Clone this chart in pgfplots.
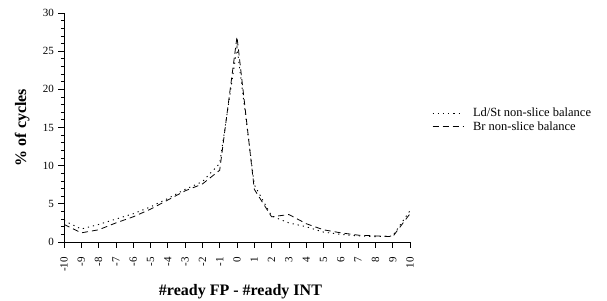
\documentclass[border=0pt]{standalone}
\usepackage{pgfplots}
\pgfplotsset{compat=1.18}
\usepackage{fontspec}
\setmainfont{Liberation Serif}
\begin{document}
\begin{tikzpicture}
\useasboundingbox (-64pt,-58pt) rectangle (543pt,242pt);
\begin{axis}[
  at={(0pt,0pt)}, anchor=south west,
  scale only axis,
  width=346pt, height=229pt,
  xmin=-10, xmax=10, ymin=0, ymax=30,
  axis lines=left,
  axis line style={-, line width=1pt},
  xtick={-10,...,10},
  ytick={0,5,...,30},
  minor ytick={0,...,30},
  tick align=outside,
  major tick length=5.5pt,
  minor tick length=3pt,
  tick style={black, line width=0.8pt},
  xticklabel style={yshift=-6pt, rotate=90, anchor=east, font=\fontsize{11}{12}\selectfont},
  yticklabel style={font=\fontsize{11}{12}\selectfont},
  yticklabel shift=1pt,
  /pgf/number format/assume math mode=true,
  xlabel={\textbf{\#ready FP - \#ready INT}},
  ylabel={\textbf{\% of cycles}},
  label style={font=\fontsize{16}{18}\selectfont},
  xlabel style={at={(axis description cs:0.51,-0.216)}, anchor=center},
  ylabel style={at={(axis description cs:-0.121,0.5)}, anchor=center},
  legend style={draw=none, fill=none, at={(axis description cs:1.064,0.585)}, anchor=north west,
    font=\fontsize{12.5}{14}\selectfont, row sep=3.5pt, inner sep=0pt, outer sep=0pt,
    nodes={inner sep=0pt}},
  legend cell align=left,
  legend image code/.code={\draw[#1] (0pt,0pt) -- (31pt,0pt);},
]
\addplot[black, dash pattern=on 1.2pt off 4pt, line width=0.9pt] coordinates {
(-10,2.8) (-9,1.7) (-8,2.3) (-7,3.0) (-6,3.7) (-5,4.6) (-4,5.7) (-3,6.9) (-2,7.9) (-1,10.3) (0,25.5)
(1,7.5) (2,3.4) (3,2.5) (4,2.0) (5,1.3) (6,1.0) (7,0.8) (8,0.7) (9,0.8) (10,4.1)};
\addlegendentry{\hspace*{9pt}Ld/St non-slice balance}
\addplot[black, dash pattern=on 6pt off 4pt, line width=0.8pt] coordinates {
(-10,2.3) (-9,1.2) (-8,1.6) (-7,2.5) (-6,3.3) (-5,4.3) (-4,5.5) (-3,6.7) (-2,7.6) (-1,9.4) (0,26.9)
(1,6.9) (2,3.3) (3,3.6) (4,2.4) (5,1.6) (6,1.2) (7,0.9) (8,0.8) (9,0.7) (10,3.7)};
\addlegendentry{\hspace*{9pt}Br non-slice balance}
\end{axis}
\end{tikzpicture}
\end{document}
